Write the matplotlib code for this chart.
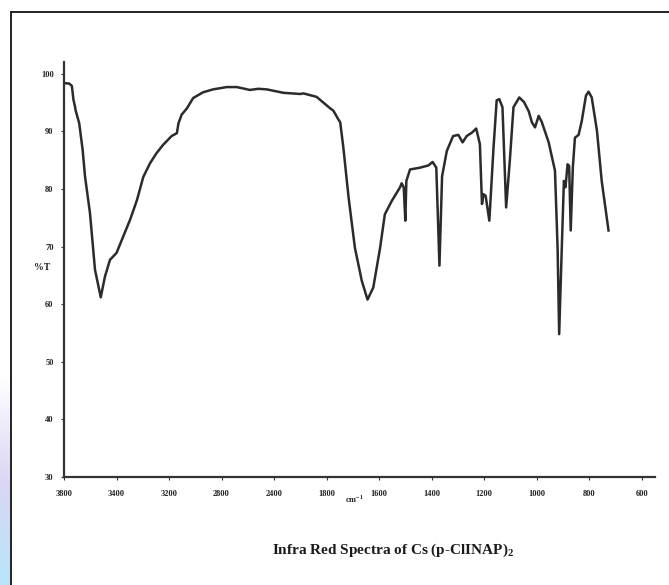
import numpy as np
import matplotlib
matplotlib.use("Agg")
import matplotlib.pyplot as plt
from matplotlib.lines import Line2D

plt.rcParams["font.family"] = "Liberation Serif"
plt.rcParams["font.weight"] = "bold"
plt.rcParams["mathtext.fontset"] = "custom"
plt.rcParams["mathtext.rm"] = "Liberation Serif:bold"
plt.rcParams["mathtext.bf"] = "Liberation Serif:bold"

# tick labels of the printed axis (evenly spaced, not linear in cm-1)
tick_wn = [3800, 3400, 3200, 2800, 2400, 1800, 1600, 1400, 1200, 1000, 800, 600]
y_ticks = [30, 40, 50, 60, 70, 80, 90, 100]

# spectrum (wavenumber as labelled, %T)
wavenumber = [
    3800, 3760, 3740, 3728, 3716, 3712, 3684, 3658, 3640, 3602, 3564, 3520,
    3488, 3450, 3400, 3374, 3348, 3322, 3298, 3272, 3248, 3222, 3180, 3140,
    3128, 3104, 3064, 3016, 2940, 2864, 2760, 2684, 2584, 2520, 2456, 2292,
    2100, 2064, 1914, 1786, 1774, 1754, 1748, 1736, 1716, 1692, 1666, 1644,
    1622, 1596, 1578, 1552, 1520, 1514, 1506, 1500, 1496, 1482, 1444, 1412,
    1396, 1382, 1370, 1360, 1342, 1318, 1298, 1282, 1266, 1246, 1230, 1216,
    1208, 1202, 1194, 1180, 1164, 1152, 1142, 1130, 1116, 1102, 1088, 1066,
    1048, 1030, 1018, 1006, 992, 980, 954, 930, 920, 914, 904, 896,
    890, 882, 876, 870, 862, 854, 840, 828, 812, 802, 790, 770,
    752, 726,
]
transmittance = [
    98.4, 98.3, 97.9, 95.5, 94.3, 93.7, 91.4, 86.8, 82.2, 75.8, 66.0, 61.2,
    64.8, 67.7, 68.9, 71.8, 74.7, 78.1, 82.1, 84.5, 86.2, 87.7, 89.2, 89.7,
    91.4, 92.9, 94.0, 95.8, 96.8, 97.3, 97.7, 97.7, 97.2, 97.4, 97.3, 96.7,
    96.5, 96.6, 96.0, 94.0, 93.6, 92.0, 91.6, 87.2, 78.5, 69.8, 64.1, 60.8,
    62.9, 69.8, 75.6, 77.9, 80.3, 81.0, 80.3, 74.5, 81.4, 83.4, 83.7, 84.1,
    84.7, 83.7, 66.7, 82.2, 86.6, 89.2, 89.4, 88.1, 89.2, 89.8, 90.5, 87.8,
    77.4, 79.1, 78.8, 74.5, 87.2, 95.4, 95.6, 94.2, 76.8, 84.9, 94.2, 95.9,
    95.1, 93.5, 91.6, 90.7, 92.7, 91.6, 88.1, 83.2, 69.8, 54.8, 69.8, 81.4,
    80.3, 84.3, 84.0, 72.8, 83.7, 88.9, 89.4, 91.8, 96.2, 96.9, 95.9, 90.1,
    81.4, 72.8,
]

# piecewise scale so the printed tick labels sit evenly spaced
wn_asc = np.array([400] + tick_wn[::-1] + [4200], dtype=float)
pos_asc = np.arange(-1, len(tick_wn) + 1, dtype=float)


def fwd(w):
    return np.interp(w, wn_asc, pos_asc)


def inv(s):
    return np.interp(s, pos_asc, wn_asc)


W, H = 669, 585
fig = plt.figure(figsize=(W / 100, H / 100), dpi=100)
ax = fig.add_axes([64 / W, 1 - 477 / H, 591 / W, 414.7 / H])
ax.set_xscale("function", functions=(fwd, inv))

ax.plot(wavenumber, transmittance, color="#2b2b2b", lw=1.8, solid_joinstyle="round")

ax.set_xlim(3800, 549)
ax.set_ylim(30, 102)
ax.set_xticks(tick_wn)
ax.set_xticklabels([str(t) for t in tick_wn])
ax.set_yticks(y_ticks)
ax.set_yticklabels([str(t) for t in y_ticks])
ax.xaxis.set_minor_locator(plt.NullLocator())

for s in ["top", "right"]:
    ax.spines[s].set_visible(False)
for s in ["left", "bottom"]:
    ax.spines[s].set_color("#333333")
    ax.spines[s].set_linewidth(1.6)
ax.tick_params(axis="both", direction="out", length=2.5, width=0.8,
               colors="#333333", labelsize=6, labelcolor="#222222")
ax.tick_params(axis="x", pad=7)
ax.tick_params(axis="y", pad=5)

fig.text(42 / W, 1 - 268 / H, "%T", fontsize=7, ha="center", va="center", color="#222222")
fig.text(354 / W, 1 - 499 / H, r"cm$^{-1}$", fontsize=6, ha="center", va="center", color="#222222")
fig.text(393 / W, 1 - 550 / H, r"Infra Red Spectra of Cs (p-ClINAP)$_2$",
         fontsize=11, ha="center", va="center", color="#1a1a1a")

# outer frame of the page
fig.add_artist(Line2D([11 / W, 11 / W], [0, 1 - 12 / H], color="#222222", lw=1.4))
fig.add_artist(Line2D([11 / W, 1], [1 - 12 / H, 1 - 12 / H], color="#222222", lw=1.4))

# faint blue tint at the lower left edge
bg = fig.add_axes([0, 0, 10 / W, 210 / H])
grad = np.linspace(0, 1, 100)
rgb = np.zeros((100, 1, 3))
top = np.array([1.0, 1.0, 1.0])
mid = np.array([0.86, 0.84, 0.96])
bot = np.array([0.72, 0.90, 0.98])
for i, g in enumerate(grad):
    if g < 0.5:
        rgb[i, 0] = bot + (mid - bot) * (g / 0.5)
    else:
        rgb[i, 0] = mid + (top - mid) * ((g - 0.5) / 0.5)
bg.imshow(rgb, aspect="auto", origin="lower", extent=[0, 1, 0, 1])
bg.axis("off")

fig.savefig("out.png", dpi=100)
